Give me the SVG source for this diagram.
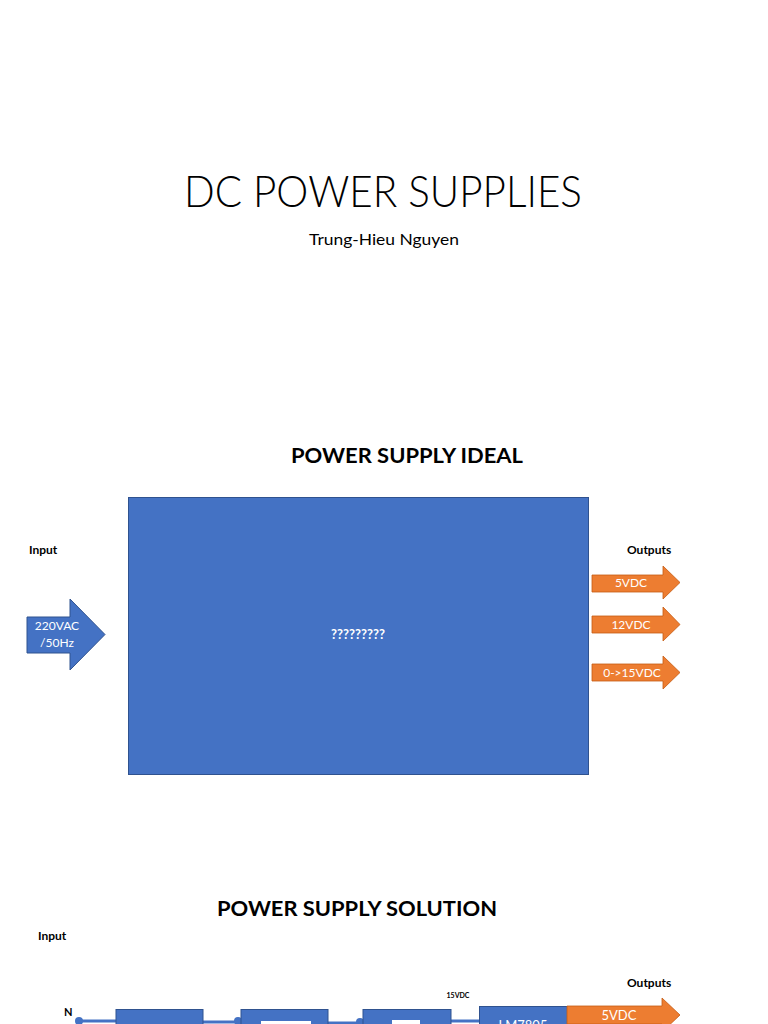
<svg xmlns="http://www.w3.org/2000/svg" width="768" height="1024" viewBox="0 0 768 1024">
<style>
.lbl{font-family:Lato,"Open Sans","Liberation Sans",sans-serif;font-weight:bold;fill:#000}
.wt{font-family:Lato,"Open Sans","Liberation Sans",sans-serif;fill:#fff;text-anchor:middle}
.blue{fill:#4472C4;stroke:#2F528F;stroke-width:1}
.orange{fill:#ED7D31;stroke:#C55A11;stroke-width:0.8}
.wire{stroke:#4472C4;stroke-width:3;fill:none}
.dot{fill:#4472C4}
</style>
<rect width="768" height="1024" fill="#fff"/>
<g id="title">
<text x="383" y="207" font-family="Lato,'Open Sans',sans-serif" font-weight="300" font-size="43" text-anchor="middle" textLength="398" lengthAdjust="spacingAndGlyphs" fill="#000">DC POWER SUPPLIES</text>
<text x="384" y="245" font-family="Lato,'Open Sans',sans-serif" font-size="16" text-anchor="middle" textLength="150" lengthAdjust="spacingAndGlyphs" fill="#000">Trung-Hieu Nguyen</text>
</g>
<g id="ideal-heading">
<text x="407" y="463" class="lbl" font-size="21" text-anchor="middle" textLength="232" lengthAdjust="spacingAndGlyphs">POWER SUPPLY IDEAL</text>
</g>
<g id="ideal-input-label"><text x="29" y="554" class="lbl" font-size="12">Input</text></g>
<g id="ideal-outputs-label"><text x="627" y="554" class="lbl" font-size="12">Outputs</text></g>
<g id="ideal-box">
<rect x="128.5" y="497.5" width="460" height="277" class="blue"/>
<text x="358" y="639" class="wt" font-size="13" font-weight="bold">?????????</text>
</g>
<g id="input-arrow">
<path d="M27 617 H70 V599 L105 634.5 L70 670 V653 H27 Z" class="blue"/>
<text x="57" y="630" class="wt" font-size="12">220VAC</text>
<text x="57" y="647" class="wt" font-size="12">/50Hz</text>
</g>
<g id="out-5v">
<path d="M592 575 H663 V566 L680 582.5 L663 599 V592 H592 Z" class="orange"/>
<text x="631" y="587" class="wt" font-size="12">5VDC</text>
</g>
<g id="out-12v">
<path d="M592 616 H663 V607 L680 624.5 L663 641 V633 H592 Z" class="orange"/>
<text x="631" y="629" class="wt" font-size="12">12VDC</text>
</g>
<g id="out-15v">
<path d="M592 664 H663 V656 L680 672.5 L663 689 V681 H592 Z" class="orange"/>
<text x="632" y="677" class="wt" font-size="12">0-&gt;15VDC</text>
</g>
<g id="solution-heading">
<text x="357" y="916" class="lbl" font-size="21" text-anchor="middle" textLength="280" lengthAdjust="spacingAndGlyphs">POWER SUPPLY SOLUTION</text>
</g>
<g id="solution-input-label"><text x="38" y="940" class="lbl" font-size="12">Input</text></g>
<g id="solution-outputs-label"><text x="627" y="987" class="lbl" font-size="12">Outputs</text></g>
<g id="label-n"><text x="64" y="1016" class="lbl" font-size="11">N</text></g>
<g id="label-15vdc"><text x="458" y="998" class="lbl" font-size="7" text-anchor="middle">15VDC</text></g>
<g id="connectors">
<line x1="79" y1="1021" x2="116" y2="1021" class="wire"/>
<line x1="203" y1="1022" x2="241" y2="1022" class="wire"/>
<line x1="328" y1="1023" x2="363" y2="1023" class="wire"/>
<line x1="451" y1="1021" x2="479" y2="1021" class="wire"/>
<circle cx="79" cy="1021" r="4" class="dot"/>
<circle cx="238" cy="1021" r="4" class="dot"/>
<circle cx="360" cy="1022" r="4" class="dot"/>
</g>
<g id="block-1"><rect x="116" y="1009.5" width="87" height="20" class="blue"/></g>
<g id="block-2">
<rect x="241" y="1009.5" width="87" height="20" class="blue"/>
<rect x="261" y="1021" width="50" height="10" fill="#fff"/>
</g>
<g id="block-3">
<rect x="363" y="1009.5" width="88" height="20" class="blue"/>
<rect x="392" y="1020" width="28" height="10" fill="#fff"/>
</g>
<g id="block-lm7805">
<rect x="479.5" y="1006.5" width="88" height="25" class="blue"/>
<text x="523" y="1030" class="wt" font-size="13">LM7805</text>
</g>
<g id="out-5v-solution">
<path d="M567 1006 H662 V998 L680 1015 L662 1032 V1024 H567 Z" class="orange"/>
<text x="619" y="1020" class="wt" font-size="13">5VDC</text>
</g>
</svg>
